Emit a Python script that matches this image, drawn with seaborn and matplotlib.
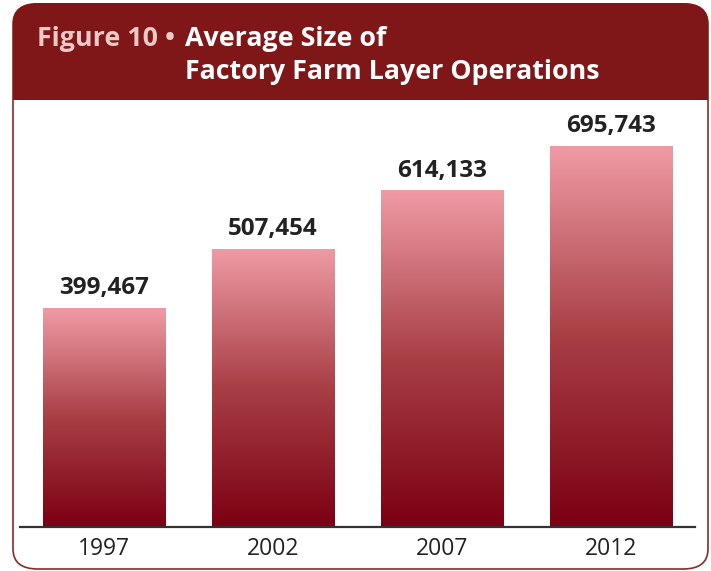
import numpy as np
import pandas as pd
import matplotlib
matplotlib.use("Agg")
import matplotlib.pyplot as plt
import seaborn as sns
from matplotlib.patches import FancyBboxPatch
from matplotlib.colors import LinearSegmentedColormap

# --- data ---
years = ["1997", "2002", "2007", "2012"]
avg_size = [399467, 507454, 614133, 695743]

HEADER_RED = "#7f1718"
TOP_PINK = "#ef9ba5"
BOTTOM_RED = "#7b0012"

sns.set_theme(style="white")
plt.rcParams["font.family"] = ["Open Sans", "DejaVu Sans"]

df = pd.DataFrame({"year": years, "size": avg_size})

fig = plt.figure(figsize=(7.11, 5.71), dpi=100)
W, H = 711, 571

# frame + header (figure pixel coords converted to fractions)
def fx(px): return px / W
def fy(py): return 1 - py / H

frame = FancyBboxPatch((fx(13), fy(569)), fx(695), (568 - 3) / H,
                       boxstyle="round,pad=0,rounding_size=0.035",
                       transform=fig.transFigure, facecolor="white",
                       edgecolor="#8a2a2a", linewidth=1.2, zorder=-1)
fig.patches.append(frame)
header = FancyBboxPatch((fx(13), fy(100)), fx(695), (100 - 3) / H,
                        boxstyle="round,pad=0,rounding_size=0.035",
                        transform=fig.transFigure, facecolor=HEADER_RED,
                        edgecolor="none", zorder=1)
fig.patches.append(header)
# square off the bottom corners of the header
fig.patches.append(plt.Rectangle((fx(13), fy(100)), fx(695), 40 / H,
                                 transform=fig.transFigure, facecolor=HEADER_RED,
                                 edgecolor="none", zorder=1))

TSIZE = 19.3
fig.text(fx(37), fy(46), "Figure 10 \u2022", color="#ecc9c6", fontsize=TSIZE,
         fontweight="bold", ha="left", va="baseline", zorder=3)
fig.text(fx(185), fy(46), "Average Size of", color="white", fontsize=TSIZE,
         fontweight="bold", ha="left", va="baseline", zorder=3)
fig.text(fx(185), fy(79), "Factory Farm Layer Operations", color="white",
         fontsize=TSIZE, fontweight="bold", ha="left", va="baseline", zorder=3)

ax = fig.add_axes([fx(20), 1 - 527 / H, 675 / W, (527 - 105) / H])
ax.set_facecolor("none")
sns.barplot(data=df, x="year", y="size", ax=ax, width=0.723, color=BOTTOM_RED)

# vertical gradient inside each bar
cmap = LinearSegmentedColormap.from_list("bar", [BOTTOM_RED, "#a83f45", TOP_PINK])
grad = np.linspace(0, 1, 256).reshape(-1, 1)
for patch in ax.patches:
    x0, w, h = patch.get_x(), patch.get_width(), patch.get_height()
    im = ax.imshow(grad, cmap=cmap, origin="lower", aspect="auto",
                   extent=[x0, x0 + w, 0, h], zorder=2)
    im.set_clip_path(patch)
    patch.set_facecolor("none")
    ax.text(x0 + w / 2, h + 14000, f"{int(h):,}", ha="center", va="bottom",
            fontsize=17.5, fontweight="bold", color="#222222")
ax.set_xlim(-0.5, 3.5)
ax.set_ylim(0, 770000)

for s in ["top", "right", "left"]:
    ax.spines[s].set_visible(False)
ax.spines["bottom"].set_color("#333333")
ax.spines["bottom"].set_linewidth(1.6)
ax.set_yticks([])
ax.set_xlabel("")
ax.set_ylabel("")
ax.tick_params(axis="x", length=0, pad=7, labelsize=16.5, labelcolor="#222222")

fig.savefig("out.png", dpi=100)
